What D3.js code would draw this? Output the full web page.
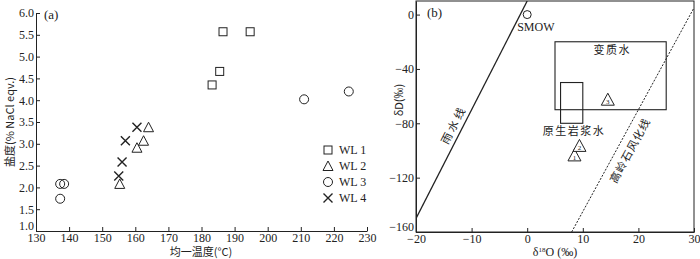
<!DOCTYPE html>
<html>
<head>
<meta charset="utf-8">
<script src="https://cdn.jsdelivr.net/npm/d3@7"></script>
<style>
  body { margin: 0; background: #fff; }
  text { font-family: "Liberation Serif", "Noto Sans CJK SC", serif; fill: #222; }
  .cjk { font-family: "Noto Sans CJK SC", sans-serif; }
</style>
</head>
<body>
<div id="chart"></div>
<script>
// (a) homogenisation temperature vs salinity
var wl1 = [[183.2, 4.35], [185.5, 4.66], [186.5, 5.57], [194.7, 5.57]];
var wl2 = [[155.3, 2.08], [160.5, 2.91], [162.5, 3.07], [164, 3.38]];
var wl3 = [[137.3, 1.74], [137.3, 2.08], [138.5, 2.08], [211, 4.02], [224.5, 4.2]];
var wl4 = [[155, 2.26], [156, 2.58], [157, 3.07], [160.5, 3.38]];
var seriesNames = ['WL 1', 'WL 2', 'WL 3', 'WL 4'];
var tempTicks = d3.range(130, 231, 10);
var salTicks = d3.range(1, 6.01, 0.5);

// (b) dD vs d18O
var smow = [0, 0];
var metamorphicBox = [5, 25, -70, -20];   // x0, x1, y0, y1
var magmaticBox = [6, 10, -80, -50];
var sampleO18 = [8.5, 9.4, 14.5];
var sampleDD = [-104, -97, -63];
var sampleLabels = ['1', '2', '3'];
var meteoricLine = [[-20, -150], [0, 10]];
var kaoliniteLine = [[8, -160], [30, 5]];
var o18Ticks = [-20, -10, 0, 10, 20, 30];
var ddTicks = [0, -40, -80, -120, -160];

var svg = d3.select('#chart').append('svg')
  .attr('width', 700)
  .attr('height', 259);

var ink = '#222';

// ---------- panel a ----------
var xa = d3.scaleLinear().domain([130, 230]).range([36, 367]);
var ya = d3.scaleLinear().domain([1, 6]).range([231, 13]);

var ga = svg.append('g');

ga.append('g')
  .attr('transform', 'translate(0,' + ya(1) + ')')
  .call(d3.axisBottom(xa).tickValues(tempTicks).tickSizeInner(-4).tickSizeOuter(0).tickPadding(2))
  .call(styleAxis);

ga.append('g')
  .attr('transform', 'translate(' + xa(130) + ',0)')
  .call(d3.axisLeft(ya).tickValues(salTicks).tickFormat(d3.format('.1f')).tickSizeInner(-4).tickSizeOuter(0).tickPadding(2))
  .call(styleAxis)
  .call(liftLast);

ga.append('text').attr('x', 44).attr('y', 19).style('font-size', '13px').text('(a)');

ga.append('text')
  .attr('class', 'cjk')
  .attr('x', 201).attr('y', 256)
  .attr('text-anchor', 'middle')
  .style('font-size', '11px')
  .text('均一温度(°C)');

ga.append('text')
  .attr('class', 'cjk')
  .attr('transform', 'translate(14,122) rotate(-90)')
  .attr('text-anchor', 'middle')
  .style('font-size', '11px')
  .text('盐度(% NaCl eqv.)');

function drawSymbol(g, kind, cx, cy) {
  if (kind === 0) {
    g.append('rect').attr('x', cx - 4).attr('y', cy - 4).attr('width', 8).attr('height', 8)
      .attr('fill', 'none').attr('stroke', ink);
  } else if (kind === 1) {
    g.append('path').attr('d', 'M' + cx + ',' + (cy - 5) + 'L' + (cx + 5) + ',' + (cy + 4.5) + 'L' + (cx - 5) + ',' + (cy + 4.5) + 'Z')
      .attr('fill', 'none').attr('stroke', ink);
  } else if (kind === 2) {
    g.append('circle').attr('cx', cx).attr('cy', cy).attr('r', 4.5)
      .attr('fill', 'none').attr('stroke', ink);
  } else {
    g.append('path').attr('d', 'M' + (cx - 4.5) + ',' + (cy - 4.5) + 'L' + (cx + 4.5) + ',' + (cy + 4.5) +
      'M' + (cx + 4.5) + ',' + (cy - 4.5) + 'L' + (cx - 4.5) + ',' + (cy + 4.5))
      .attr('fill', 'none').attr('stroke', ink).attr('stroke-width', 1.4);
  }
}

[wl1, wl2, wl3, wl4].forEach(function (s, k) {
  s.forEach(function (d) { drawSymbol(ga, k, xa(d[0]), ya(d[1])); });
});

// legend
seriesNames.forEach(function (name, k) {
  var ly = 150 + k * 16;
  drawSymbol(ga, k, 328, ly);
  ga.append('text').attr('x', 339).attr('y', ly + 4).style('font-size', '12px').text(name);
});

// ---------- panel b ----------
var xb = d3.scaleLinear().domain([-20, 30]).range([416, 694]);
var yb = d3.scaleLinear().domain([-160, 10]).range([232, 1]);

var gb = svg.append('g');

gb.append('defs').append('clipPath').attr('id', 'clipb')
  .append('rect').attr('x', xb(-20)).attr('y', yb(10)).attr('width', xb(30) - xb(-20)).attr('height', yb(-160) - yb(10));

gb.append('g')
  .attr('transform', 'translate(0,' + yb(-160) + ')')
  .call(d3.axisBottom(xb).tickValues(o18Ticks).tickSizeInner(-4).tickSizeOuter(0).tickPadding(2))
  .call(styleAxis);

gb.append('g')
  .attr('transform', 'translate(' + xb(-20) + ',0)')
  .call(d3.axisLeft(yb).tickValues(ddTicks).tickSizeInner(-4).tickSizeOuter(0).tickPadding(2))
  .call(styleAxis)
  .call(liftLast);

gb.append('rect')
  .attr('x', xb(-20)).attr('y', yb(10))
  .attr('width', xb(30) - xb(-20)).attr('height', yb(-160) - yb(10))
  .attr('fill', 'none').attr('stroke', ink);

var line = d3.line().x(function (d) { return xb(d[0]); }).y(function (d) { return yb(d[1]); });

gb.append('path').datum(meteoricLine).attr('d', line)
  .attr('clip-path', 'url(#clipb)')
  .attr('stroke', ink).attr('stroke-width', 1.3).attr('fill', 'none');

gb.append('path').datum(kaoliniteLine).attr('d', line)
  .attr('clip-path', 'url(#clipb)')
  .attr('stroke', ink).attr('stroke-width', 1).attr('stroke-dasharray', '2,1.5').attr('fill', 'none');

[metamorphicBox, magmaticBox].forEach(function (b) {
  gb.append('rect')
    .attr('x', xb(b[0])).attr('y', yb(b[3]))
    .attr('width', xb(b[1]) - xb(b[0])).attr('height', yb(b[2]) - yb(b[3]))
    .attr('fill', 'none').attr('stroke', ink).attr('stroke-width', 1.1);
});

gb.append('circle').attr('cx', xb(smow[0])).attr('cy', yb(smow[1])).attr('r', 4)
  .attr('fill', 'none').attr('stroke', ink);
gb.append('text').attr('x', xb(smow[0]) - 10).attr('y', yb(smow[1]) + 16)
  .style('font-size', '12px').text('SMOW');

gb.append('text').attr('x', 427).attr('y', 17).style('font-size', '13px').text('(b)');

gb.append('text').attr('class', 'cjk')
  .attr('x', xb(15.3)).attr('y', yb(-26) + 4)
  .attr('text-anchor', 'middle').style('font-size', '11px').style('letter-spacing', '1.5px')
  .text('变质水');

gb.append('text').attr('class', 'cjk')
  .attr('x', xb(8.4)).attr('y', yb(-86) + 4)
  .attr('text-anchor', 'middle').style('font-size', '11px').style('letter-spacing', '1.5px')
  .text('原生岩浆水');

sampleO18.forEach(function (x, i) {
  var cx = xb(x), cy = yb(sampleDD[i]);
  gb.append('path')
    .attr('d', 'M' + cx + ',' + (cy - 7) + 'L' + (cx + 6.5) + ',' + (cy + 5) + 'L' + (cx - 6.5) + ',' + (cy + 5) + 'Z')
    .attr('fill', '#fff').attr('stroke', ink);
  gb.append('text').attr('x', cx).attr('y', cy + 4)
    .attr('text-anchor', 'middle').style('font-size', '7px').text(sampleLabels[i]);
});

gb.append('text').attr('class', 'cjk')
  .attr('transform', 'translate(' + xb(-13.2) + ',' + yb(-81) + ') rotate(-63)')
  .attr('text-anchor', 'middle').attr('dy', '0.35em')
  .style('font-size', '11px').style('letter-spacing', '3px')
  .text('雨水线');

gb.append('text').attr('class', 'cjk')
  .attr('transform', 'translate(' + xb(18.5) + ',' + yb(-100) + ') rotate(-61.5)')
  .attr('text-anchor', 'middle').attr('dy', '0.35em')
  .style('font-size', '11px').style('letter-spacing', '1px')
  .text('高岭石风化线');

gb.append('text').attr('class', 'cjk')
  .attr('transform', 'translate(403,100) rotate(-90)')
  .attr('text-anchor', 'middle').style('font-size', '11px')
  .text('δD(‰)');

var xt = gb.append('text').attr('x', 555).attr('y', 256).attr('text-anchor', 'middle').style('font-size', '12px');
xt.append('tspan').text('δ');
xt.append('tspan').attr('dy', -4).style('font-size', '7px').text('18');
xt.append('tspan').attr('dy', 4).text('O (‰)');

function styleAxis(g) {
  g.selectAll('path, line').attr('stroke', ink);
  g.selectAll('text').style('font-size', '12px').style('font-family', '"Liberation Serif", serif').attr('fill', ink);
}

// lowest y label sits a little above the corner so it clears the x labels
function liftLast(g) {
  g.selectAll('.tick').filter(function (d, i, n) { return d === d3.min(n, function (e) { return e.__data__; }); })
    .select('text').attr('dy', '-0.1em');
}
</script>
</body>
</html>
